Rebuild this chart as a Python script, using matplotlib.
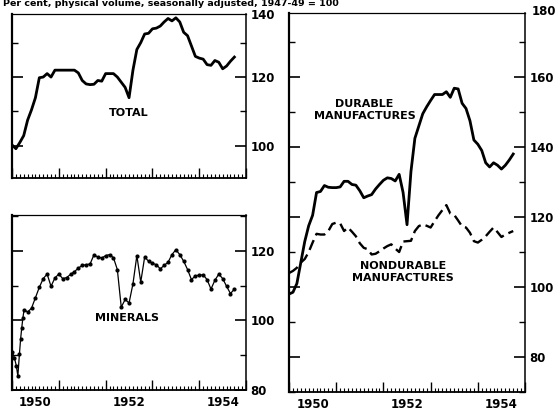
import matplotlib
matplotlib.use("Agg")
import matplotlib.pyplot as plt
from matplotlib.ticker import MultipleLocator

# monthly index values, Jan 1950 = month 0
months = list(range(58))

total = [100.3, 99.2, 101, 103, 107.5, 110.5, 114, 119.8, 120, 121,
         120, 122, 122, 122, 122, 122, 122, 121.2, 119, 118,
         117.8, 117.9, 119, 118.8, 121, 121, 121, 120, 118.5, 117,
         114, 122, 128, 130, 132.5, 132.7, 134, 134.2, 134.8, 136,
         137, 136.3, 137.2, 136, 133, 132, 129, 126, 125.5, 125.2,
         123.6, 123.4, 124.8, 124.3, 122.4, 123.2, 124.6, 125.8]

minerals_months = [0, 0.6, 1.1, 1.5, 1.9, 2.2, 2.5, 2.8, 3.1] + list(range(4, 58))
minerals = [91, 89.3, 87, 84, 90.3, 94.6, 97.9, 100.8, 103.1,
            102.4, 103.5, 106.5, 109.5, 112, 113.3, 109.8, 112.2, 113.3, 112,
            112.3, 113.2, 114, 115, 115.8, 116, 116.2, 118.8, 118.2, 117.9,
            118.6, 118.9, 118, 114.6, 103.8, 106, 105, 110.5, 118.6, 111,
            118.2, 117, 116.4, 116, 114.8, 115.8, 116.7, 118.9, 120.3, 118.9,
            117, 114.6, 111.7, 112.8, 113, 113.1, 111.7, 109, 111.5, 113.3,
            112, 109.8, 107.7, 109]

durable = [98, 98.5, 101, 107, 113, 117.5, 120.5, 127, 127.3, 129,
           128.5, 128.4, 128.4, 128.6, 130.2, 130.2, 129.3, 129.1, 127.5, 125.5,
           126, 126.4, 128, 129.3, 130.5, 131.2, 131, 130.3, 132.2, 127,
           117.8, 133, 142.5, 146, 149.5, 151.5, 153.3, 155, 155, 155,
           155.8, 154.2, 156.8, 156.6, 152.5, 151, 147.5, 142, 140.8, 139,
           135.5, 134.3, 135.5, 134.8, 133.7, 134.8, 136.3, 138]

nondurable = [104, 104.6, 105.5, 107, 108, 110, 112.7, 115.2, 115, 115,
              116, 118, 118.4, 118.2, 116, 117, 115.8, 114.5, 112.5, 111.2,
              110.8, 109.3, 109.5, 110.2, 111, 111.7, 112.2, 111, 110, 113,
              113.1, 113.2, 116, 117.4, 117.9, 117.5, 117, 118.8, 120.5, 122,
              123.4, 121, 120.6, 119, 117.3, 117, 115.5, 113.1, 112.7, 113.5,
              114.5, 115.8, 117, 115.7, 114.3, 115, 115.5, 116]

year_labels = ["1950", "1952", "1954"]
year_label_pos = [1950.5, 1952.5, 1954.5]

TICK_SIZE = 8.5
LABEL_SIZE = 8


def to_year(ms):
    return [1950 + m / 12 for m in ms]


def style_axes(ax, ylo, yhi, major, minor, show_years):
    ax.set_xlim(1950, 1955)
    ax.set_ylim(ylo, yhi)
    ax.xaxis.set_major_locator(MultipleLocator(1))
    ax.xaxis.set_minor_locator(MultipleLocator(1 / 12))
    ax.yaxis.set_major_locator(MultipleLocator(major))
    ax.yaxis.set_minor_locator(MultipleLocator(minor))
    ax.tick_params(axis="x", which="major", direction="in", length=7,
                   width=1, labelbottom=False, top=False)
    ax.tick_params(axis="x", which="minor", direction="in", length=3,
                   width=0.8, top=False)
    ax.tick_params(axis="y", which="major", direction="in", length=8,
                   width=1.2, left=True, right=True, labelleft=False,
                   labelright=True, labelsize=TICK_SIZE, pad=3)
    ax.tick_params(axis="y", which="minor", direction="in", length=4,
                   width=1, left=True, right=True)
    for lab in ax.get_yticklabels():
        lab.set_fontweight("bold")
    for side, lw in [("left", 1.6), ("right", 1.1), ("top", 0.9), ("bottom", 1.3)]:
        ax.spines[side].set_linewidth(lw)
    if show_years:
        sec = ax.secondary_xaxis("bottom")
        sec.set_xticks(year_label_pos, year_labels)
        sec.tick_params(length=0, labelsize=TICK_SIZE, pad=4)
        for lab in sec.get_xticklabels():
            lab.set_fontweight("bold")
        sec.spines["bottom"].set_visible(False)


fig = plt.figure(figsize=(5.56, 4.12), dpi=100)

ax_tot = fig.add_axes([0.0216, 0.568, 0.421, 0.398])
ax_min = fig.add_axes([0.0216, 0.0534, 0.421, 0.425])
ax_man = fig.add_axes([0.5198, 0.0485, 0.4245, 0.92])

ax_tot.plot(to_year(months), total, color="black", lw=2.0,
            solid_joinstyle="round")
style_axes(ax_tot, 90.7, 138.3, 20, 10, False)
ax_tot.set_yticks([100, 120])
ax_tot.text(1.02, 0.99, "140", transform=ax_tot.transAxes, fontsize=TICK_SIZE,
            fontweight="bold", va="center", ha="left")
ax_tot.text(1952.5, 109.6, "TOTAL", fontsize=LABEL_SIZE, fontweight="bold",
            ha="center", va="center")

ax_min.plot(to_year(minerals_months), minerals, color="black", lw=0.9,
            marker="o", markersize=2.0)
style_axes(ax_min, 80, 130.3, 20, 10, True)
ax_min.text(1952.45, 100.7, "MINERALS", fontsize=LABEL_SIZE, fontweight="bold",
            ha="center", va="center")

ax_man.plot(to_year(months), durable, color="black", lw=2.0,
            solid_joinstyle="round")
ax_man.plot(to_year(months), nondurable, color="black", lw=1.7,
            dashes=(4.5, 2.2))
style_axes(ax_man, 70, 178.3, 20, 10, True)
ax_man.set_yticks([80, 100, 120, 140, 160])
ax_man.text(1.081, 1.003, "180", transform=ax_man.transAxes, fontsize=TICK_SIZE,
            fontweight="bold", va="center", ha="center")
ax_man.text(1951.6, 150.6, "DURABLE\nMANUFACTURES", fontsize=LABEL_SIZE,
            fontweight="bold", ha="center", va="center", linespacing=1.2)
ax_man.text(1952.42, 104.3, "NONDURABLE\nMANUFACTURES", fontsize=LABEL_SIZE,
            fontweight="bold", ha="center", va="center", linespacing=1.2)

fig.text(0.006, 1 - 6.5 / 412, "Per cent, physical volume, seasonally adjusted, 1947-49 = 100",
         fontsize=6.8, fontweight="bold", ha="left", va="baseline")

fig.savefig("out.png", dpi=100)
